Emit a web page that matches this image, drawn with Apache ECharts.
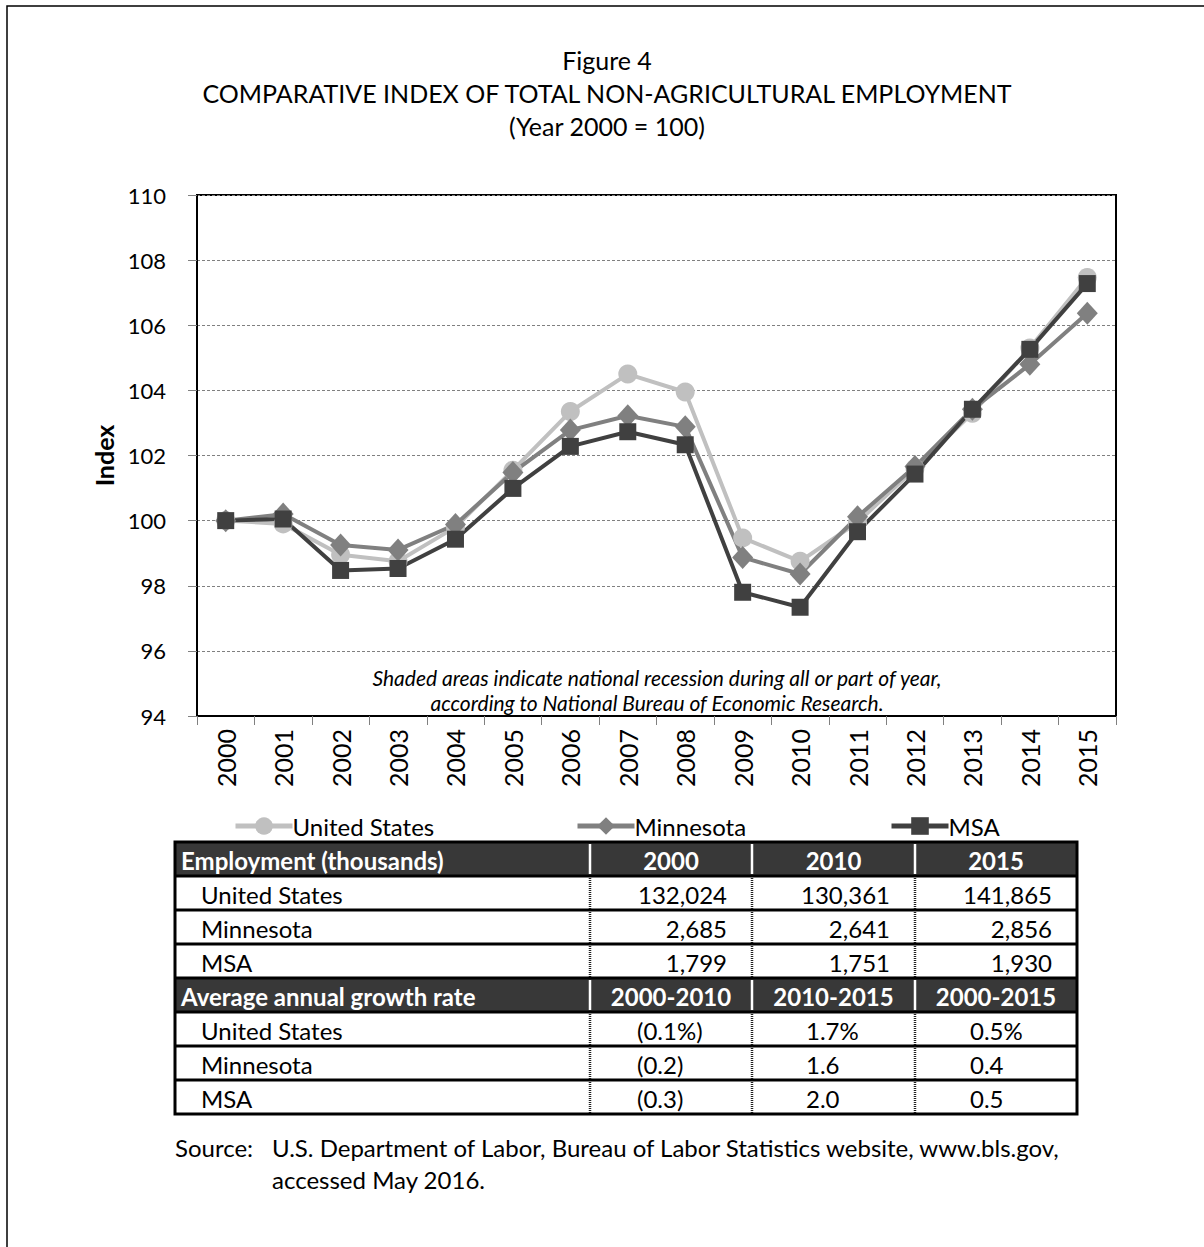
<!DOCTYPE html>
<html>
<head>
<meta charset="utf-8">
<script src="https://cdn.jsdelivr.net/npm/echarts@6/dist/echarts.min.js"></script>
<style>
  html, body { margin: 0; padding: 0; background: #fff; }
  #chart { width: 1204px; height: 1247px; }
</style>
</head>
<body>
<div id="chart"></div>
<script>
// Years on the category axis
const years = ['2000','2001','2002','2003','2004','2005','2006','2007','2008','2009','2010','2011','2012','2013','2014','2015'];

// Employment index, year 2000 = 100
const usIndex  = [100.0, 99.9, 98.95, 98.75, 99.8, 101.55, 103.35, 104.5, 103.95, 99.47, 98.75, 99.95, 101.6, 103.3, 105.3, 107.47];
const mnIndex  = [100.0, 100.2, 99.25, 99.1, 99.88, 101.48, 102.78, 103.22, 102.88, 98.87, 98.36, 100.12, 101.66, 103.42, 104.8, 106.37];
const msaIndex = [100.0, 100.05, 98.47, 98.53, 99.43, 100.99, 102.28, 102.73, 102.33, 97.8, 97.34, 99.66, 101.43, 103.42, 105.26, 107.28];

// Value axis ticks
const yTicks = [94, 96, 98, 100, 102, 104, 106, 108, 110];

// Table: employment in thousands
const empYears = ['2000', '2010', '2015'];
const regionNames = ['United States', 'Minnesota', 'MSA'];
const empUS  = [132024, 130361, 141865];
const empMN  = [2685, 2641, 2856];
const empMSA = [1799, 1751, 1930];

// Table: average annual growth rate (%)
const growthPeriods = ['2000-2010', '2010-2015', '2000-2015'];
const growthUS  = [-0.1, 1.7, 0.5];
const growthMN  = [-0.2, 1.6, 0.4];
const growthMSA = [-0.3, 2.0, 0.5];

const FONT = 'Lato, "Open Sans", sans-serif';
const C_US = '#c0c0c0', C_MN = '#808080', C_MSA = '#404040';
const TS = 24; // table / legend / source text size

// ---- table layout ----
const colX = [175, 590, 752, 915, 1077];
const rowY = [842, 876, 910, 944, 978, 1012, 1046, 1080, 1114];
const graphics = [];

function txt(x, y, s, opt) {
  graphics.push({
    type: 'text', x: x, y: y, silent: true,
    style: Object.assign({ text: s, font: TS + 'px ' + FONT, fill: '#000', verticalAlign: 'middle', align: 'left' }, opt || {})
  });
}
function line(x1, y1, x2, y2, stroke, w, dash) {
  graphics.push({
    type: 'line', silent: true,
    shape: { x1: x1, y1: y1, x2: x2, y2: y2 },
    style: { stroke: stroke, lineWidth: w, lineDash: dash || null }
  });
}
function fmtGrowth(v, pct) {
  const s = Math.abs(v).toFixed(1) + (pct ? '%' : '');
  return v < 0 ? '(' + s + ')' : s;
}

// header backgrounds
[0, 4].forEach(function (r) {
  graphics.push({ type: 'rect', silent: true,
    shape: { x: colX[0], y: rowY[r], width: colX[4] - colX[0], height: rowY[r + 1] - rowY[r] },
    style: { fill: '#383838' } });
});

// vertical separators: white in header rows, dotted in data rows
for (let c = 1; c <= 3; c++) {
  [0, 4].forEach(function (r) { line(colX[c], rowY[r] + 2, colX[c], rowY[r + 1] - 2, '#fff', 2.5); });
  [[1, 4], [5, 8]].forEach(function (rg) { line(colX[c], rowY[rg[0]], colX[c], rowY[rg[1]], '#222', 2.5, [1, 1]); });
}
// horizontal rules
for (let r = 1; r < 8; r++) line(colX[0], rowY[r], colX[4], rowY[r], '#000', 3);
// outer frame
graphics.push({ type: 'rect', silent: true,
  shape: { x: colX[0], y: rowY[0], width: colX[4] - colX[0], height: rowY[8] - rowY[0] },
  style: { fill: null, stroke: '#000', lineWidth: 3 } });

function midY(r) { return (rowY[r] + rowY[r + 1]) / 2 + 1; }
const HDR = 'bold ' + TS + 'px ' + FONT;

// header 1
txt(colX[0] + 6, midY(0), 'Employment (thousands)', { font: HDR, fill: '#fff' });
empYears.forEach(function (y, i) {
  txt((colX[i + 1] + colX[i + 2]) / 2, midY(0), y, { font: HDR, fill: '#fff', align: 'center' });
});
[empUS, empMN, empMSA].forEach(function (arr, k) {
  txt(colX[0] + 26, midY(k + 1), regionNames[k]);
  arr.forEach(function (v, i) {
    txt(colX[i + 2] - 25, midY(k + 1), v.toLocaleString('en-US'), { align: 'right' });
  });
});

// header 2
txt(colX[0] + 6, midY(4), 'Average annual growth rate', { font: HDR, fill: '#fff' });
growthPeriods.forEach(function (p, i) {
  txt((colX[i + 1] + colX[i + 2]) / 2, midY(4), p, { font: HDR, fill: '#fff', align: 'center' });
});
const growthLeft = [637, 806, 970];
[growthUS, growthMN, growthMSA].forEach(function (arr, k) {
  txt(colX[0] + 26, midY(k + 5), regionNames[k]);
  arr.forEach(function (v, i) {
    txt(growthLeft[i], midY(k + 5), fmtGrowth(v, k === 0));
  });
});

// note inside the plot
txt(657, 677, 'Shaded areas indicate national recession during all or part of year,', { font: 'italic 21px ' + FONT, align: 'center' });
txt(657, 702, 'according to National Bureau of Economic Research.', { font: 'italic 21px ' + FONT, align: 'center' });

// source
txt(175, 1147, 'Source:', { font: '24px ' + FONT });
txt(272, 1147, 'U.S. Department of Labor, Bureau of Labor Statistics website, www.bls.gov,', { font: '24px ' + FONT });
txt(272, 1179, 'accessed May 2016.', { font: '24px ' + FONT });

// page frame
graphics.push({ type: 'rect', silent: true, z: -1,
  shape: { x: 7, y: 6, width: 1230, height: 1280 },
  style: { fill: null, stroke: '#000', lineWidth: 1.5 } });

const chart = echarts.init(document.getElementById('chart'), null, { renderer: 'svg' });

function legendAt(name, left) {
  return {
    data: [name], left: left, top: 809, itemWidth: 57, itemHeight: 22, itemGap: 0,
    lineStyle: { width: 5 },
    textStyle: { fontFamily: FONT, fontSize: TS, color: '#000', padding: [0, 0, 0, -5] },
    selectedMode: false
  };
}

function lineSeries(name, data, color, symbol, size) {
  return {
    name: name, type: 'line', data: data,
    symbol: symbol, symbolSize: size, showSymbol: true,
    lineStyle: { color: color, width: 4 },
    itemStyle: { color: color },
    emphasis: { disabled: true },
    animation: false
  };
}

chart.setOption({
  animation: false,
  title: {
    text: 'Figure 4\nCOMPARATIVE INDEX OF TOTAL NON-AGRICULTURAL EMPLOYMENT\n(Year 2000 = 100)',
    left: 602, top: 38, textAlign: 'center',
    textStyle: { fontFamily: FONT, fontSize: 25, fontWeight: 'normal', color: '#000', lineHeight: 33 }
  },
  legend: [
    legendAt('United States', 228),
    legendAt('Minnesota', 570),
    legendAt('MSA', 884)
  ],
  grid: { left: 197, top: 195, width: 919, height: 521, show: true, borderColor: '#000', borderWidth: 2, backgroundColor: '#fff' },
  xAxis: {
    type: 'category', data: years, boundaryGap: true,
    axisLine: { lineStyle: { color: '#000', width: 2 } },
    axisTick: { show: true, interval: 0, length: 9, lineStyle: { color: '#808080', width: 1 } },
    axisLabel: { rotate: 90, interval: 0, fontFamily: FONT, fontSize: 25, color: '#000', margin: 13 }
  },
  yAxis: {
    type: 'value', min: yTicks[0], max: yTicks[yTicks.length - 1], interval: 2,
    name: 'Index', nameLocation: 'middle', nameGap: 80, nameRotate: 90,
    nameTextStyle: { fontFamily: FONT, fontSize: 25, fontWeight: 'bold', color: '#000' },
    axisLine: { show: true, lineStyle: { color: '#000', width: 2 } },
    axisTick: { show: true, length: 9, lineStyle: { color: '#808080', width: 1 } },
    axisLabel: { fontFamily: FONT, fontSize: 22, color: '#000', margin: 31 },
    splitLine: { show: true, lineStyle: { color: '#808080', width: 1, type: [3, 2] } }
  },
  graphic: graphics,
  series: [
    lineSeries('United States', usIndex, C_US, 'circle', 19),
    lineSeries('Minnesota', mnIndex, C_MN, 'diamond', [21, 23]),
    lineSeries('MSA', msaIndex, C_MSA, 'rect', 17)
  ]
});
</script>
</body>
</html>
